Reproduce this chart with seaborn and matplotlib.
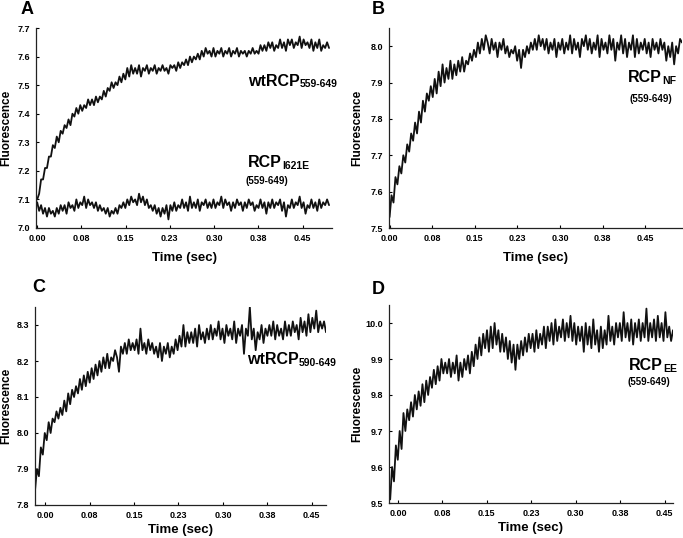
import numpy as np
import pandas as pd
import matplotlib
matplotlib.use("Agg")
import matplotlib.pyplot as plt
import seaborn as sns

# Shared time axis ticks
time_ticks = [0.0, 0.075, 0.15, 0.225, 0.30, 0.375, 0.45]
time_tick_labels = ["0.00", "0.08", "0.15", "0.23", "0.30", "0.38", "0.45"]

# Panel A: wtRCP559-649 and RCP I621E (~3.3 ms per point)
a_time = (0.0, 0.495)
a_wt = [7.10, 7.12, 7.17, 7.17, 7.21, 7.21, 7.25, 7.25, 7.29, 7.28,
        7.32, 7.30, 7.34, 7.33, 7.36, 7.35, 7.38, 7.36, 7.40, 7.39,
        7.42, 7.40, 7.43, 7.41, 7.43, 7.42, 7.45, 7.43, 7.45, 7.43,
        7.46, 7.44, 7.46, 7.45, 7.48, 7.46, 7.49, 7.48, 7.51, 7.49,
        7.51, 7.50, 7.53, 7.51, 7.54, 7.52, 7.56, 7.53, 7.57, 7.54,
        7.56, 7.54, 7.57, 7.53, 7.56, 7.55, 7.57, 7.54, 7.56, 7.55,
        7.57, 7.54, 7.56, 7.55, 7.57, 7.55, 7.56, 7.54, 7.57, 7.56,
        7.57, 7.55, 7.58, 7.56, 7.58, 7.57, 7.59, 7.57, 7.60, 7.58,
        7.60, 7.59, 7.61, 7.59, 7.62, 7.60, 7.63, 7.61, 7.62, 7.60,
        7.63, 7.60, 7.62, 7.61, 7.63, 7.60, 7.62, 7.61, 7.63, 7.60,
        7.62, 7.61, 7.63, 7.60, 7.62, 7.61, 7.62, 7.60, 7.62, 7.61,
        7.63, 7.61, 7.62, 7.61, 7.64, 7.62, 7.64, 7.62, 7.65, 7.63,
        7.65, 7.62, 7.64, 7.63, 7.66, 7.63, 7.65, 7.62, 7.66, 7.64,
        7.66, 7.63, 7.65, 7.64, 7.67, 7.63, 7.66, 7.64, 7.65, 7.63,
        7.66, 7.62, 7.65, 7.63, 7.66, 7.62, 7.64, 7.63, 7.65, 7.63]
a_i621e = [7.09, 7.06, 7.08, 7.05, 7.07, 7.04, 7.07, 7.05, 7.06, 7.04,
           7.07, 7.05, 7.08, 7.06, 7.08, 7.05, 7.09, 7.07, 7.08, 7.06,
           7.10, 7.07, 7.09, 7.08, 7.11, 7.07, 7.10, 7.08, 7.09, 7.07,
           7.09, 7.06, 7.08, 7.06, 7.07, 7.05, 7.07, 7.04, 7.06, 7.05,
           7.07, 7.05, 7.08, 7.07, 7.09, 7.07, 7.10, 7.08, 7.11, 7.09,
           7.10, 7.08, 7.12, 7.09, 7.11, 7.08, 7.10, 7.07, 7.08, 7.06,
           7.08, 7.05, 7.07, 7.04, 7.07, 7.05, 7.08, 7.03, 7.08, 7.06,
           7.09, 7.06, 7.08, 7.07, 7.10, 7.07, 7.09, 7.06, 7.11, 7.07,
           7.09, 7.07, 7.10, 7.06, 7.09, 7.08, 7.10, 7.07, 7.09, 7.07,
           7.10, 7.07, 7.09, 7.08, 7.11, 7.07, 7.10, 7.08, 7.09, 7.06,
           7.09, 7.07, 7.10, 7.08, 7.09, 7.06, 7.09, 7.07, 7.10, 7.08,
           7.09, 7.06, 7.08, 7.07, 7.10, 7.07, 7.09, 7.05, 7.09, 7.07,
           7.10, 7.07, 7.09, 7.08, 7.10, 7.06, 7.09, 7.04, 7.08, 7.07,
           7.10, 7.07, 7.09, 7.08, 7.11, 7.07, 7.09, 7.05, 7.08, 7.07,
           7.10, 7.07, 7.09, 7.06, 7.10, 7.07, 7.09, 7.08, 7.10, 7.08]
a_yticks = [7.0, 7.1, 7.2, 7.3, 7.4, 7.5, 7.6, 7.7]

# Panel B: RCP NF (559-649)
b_time = (0.0, 0.515)
b_nf = [7.53, 7.59, 7.57, 7.64, 7.62, 7.67, 7.65, 7.70, 7.68, 7.73,
        7.71, 7.76, 7.74, 7.79, 7.76, 7.82, 7.79, 7.85, 7.82, 7.87,
        7.85, 7.89, 7.86, 7.91, 7.87, 7.93, 7.89, 7.95, 7.90, 7.94,
        7.91, 7.96, 7.91, 7.95, 7.92, 7.96, 7.93, 7.97, 7.93, 7.96,
        7.95, 7.98, 7.96, 7.99, 7.97, 8.01, 7.98, 8.02, 7.99, 8.03,
        8.01, 7.98, 8.02, 7.99, 8.01, 7.97, 8.01, 7.99, 8.02, 7.98,
        8.00, 7.97, 7.99, 7.98, 8.00, 7.96, 7.99, 7.94, 7.99, 7.97,
        8.00, 7.98, 8.01, 7.99, 8.02, 7.99, 8.03, 8.00, 8.02, 7.99,
        8.02, 7.98, 8.01, 7.99, 8.02, 7.97, 8.01, 7.99, 8.02, 7.98,
        8.01, 7.99, 8.03, 7.98, 8.02, 7.99, 8.01, 7.97, 8.02, 8.00,
        8.03, 7.99, 8.02, 7.98, 8.01, 7.99, 8.03, 7.97, 8.02, 7.99,
        8.01, 7.98, 8.03, 7.99, 8.02, 7.96, 8.01, 7.99, 8.03, 7.98,
        8.02, 7.97, 8.01, 7.99, 8.03, 7.97, 8.02, 7.98, 8.01, 7.99,
        8.02, 7.98, 8.01, 7.97, 8.02, 7.99, 8.01, 7.98, 8.02, 7.99,
        8.01, 7.96, 8.00, 7.97, 8.01, 7.95, 8.00, 7.98, 8.02, 8.01]
b_yticks = [7.5, 7.6, 7.7, 7.8, 7.9, 8.0]

# Panel C: wtRCP590-649
c_time = (-0.017, 0.474)
c_wt = [7.84, 7.90, 7.88, 7.96, 7.94, 8.00, 7.98, 8.03, 8.00, 8.04,
        8.03, 8.06, 8.04, 8.07, 8.05, 8.09, 8.06, 8.11, 8.08, 8.12,
        8.10, 8.13, 8.11, 8.15, 8.12, 8.16, 8.13, 8.17, 8.14, 8.18,
        8.15, 8.19, 8.16, 8.20, 8.17, 8.21, 8.18, 8.22, 8.18, 8.21,
        8.20, 8.23, 8.21, 8.17, 8.24, 8.22, 8.25, 8.22, 8.26, 8.23,
        8.25, 8.23, 8.26, 8.22, 8.29, 8.23, 8.25, 8.22, 8.26, 8.23,
        8.25, 8.22, 8.24, 8.21, 8.25, 8.20, 8.24, 8.22, 8.25, 8.21,
        8.24, 8.22, 8.26, 8.23, 8.27, 8.24, 8.30, 8.24, 8.28, 8.25,
        8.28, 8.25, 8.29, 8.24, 8.30, 8.26, 8.28, 8.25, 8.29, 8.26,
        8.30, 8.26, 8.29, 8.27, 8.31, 8.26, 8.29, 8.25, 8.30, 8.27,
        8.29, 8.26, 8.31, 8.25, 8.29, 8.27, 8.30, 8.22, 8.29, 8.27,
        8.35, 8.26, 8.29, 8.23, 8.28, 8.26, 8.30, 8.25, 8.29, 8.27,
        8.30, 8.27, 8.31, 8.26, 8.30, 8.27, 8.29, 8.26, 8.31, 8.27,
        8.30, 8.27, 8.31, 8.28, 8.30, 8.26, 8.32, 8.28, 8.31, 8.27,
        8.33, 8.28, 8.32, 8.29, 8.34, 8.28, 8.31, 8.29, 8.31, 8.28]
c_yticks = [7.8, 7.9, 8.0, 8.1, 8.2, 8.3]

# Panel D: RCP EE (559-649)
d_time = (-0.013, 0.464)
d_ee = [9.51, 9.60, 9.56, 9.66, 9.62, 9.70, 9.65, 9.75, 9.70, 9.76,
        9.73, 9.78, 9.74, 9.80, 9.76, 9.81, 9.77, 9.83, 9.78, 9.84,
        9.80, 9.85, 9.82, 9.87, 9.83, 9.88, 9.84, 9.90, 9.86, 9.89,
        9.86, 9.90, 9.85, 9.89, 9.86, 9.91, 9.84, 9.89, 9.85, 9.90,
        9.87, 9.91, 9.86, 9.92, 9.88, 9.94, 9.90, 9.96, 9.91, 9.97,
        9.93, 9.98, 9.92, 9.99, 9.93, 10.00, 9.94, 9.98, 9.92, 9.97,
        9.92, 9.96, 9.90, 9.95, 9.89, 9.94, 9.87, 9.94, 9.90, 9.95,
        9.91, 9.96, 9.92, 9.97, 9.93, 9.97, 9.92, 9.98, 9.93, 9.97,
        9.94, 9.99, 9.93, 9.99, 9.95, 10.00, 9.94, 10.01, 9.95, 9.99,
        9.96, 10.01, 9.95, 10.00, 9.96, 10.02, 9.95, 10.00, 9.94, 9.99,
        9.95, 9.99, 9.92, 10.00, 9.94, 9.99, 9.93, 10.01, 9.94, 9.98,
        9.92, 9.99, 9.93, 9.98, 9.94, 10.02, 9.95, 9.99, 9.94, 10.00,
        9.96, 10.00, 9.95, 10.03, 9.96, 10.00, 9.95, 10.01, 9.94, 10.00,
        9.96, 10.01, 9.95, 10.00, 9.96, 10.04, 9.95, 10.00, 9.96, 10.01,
        9.95, 10.02, 9.96, 10.00, 9.95, 10.03, 9.96, 9.99, 9.95, 9.98]
d_yticks = [9.5, 9.6, 9.7, 9.8, 9.9, 10.0]

sns.set_style("ticks")
plt.rcParams["font.family"] = ["Liberation Sans", "DejaVu Sans"]
plt.rcParams["font.weight"] = "bold"
for key in ["text.color", "axes.labelcolor", "xtick.color", "ytick.color"]:
    plt.rcParams[key] = "black"

W, H = 683, 538
fig = plt.figure(figsize=(W / 100, H / 100), dpi=100)


def px_axes(left, top, right, bottom):
    return fig.add_axes([left / W, 1 - bottom / H, (right - left) / W, (bottom - top) / H])


def trace(ax, t_range, values):
    df = pd.DataFrame({"t": np.linspace(t_range[0], t_range[1], len(values)), "f": values})
    sns.lineplot(data=df, x="t", y="f", ax=ax, color="#111111", lw=1.3,
                 estimator=None, sort=False)


def style(ax, xlim, ylim, yticks, ylab_x, xlab_y):
    ax.set_xlim(*xlim)
    ax.set_ylim(*ylim)
    ax.set_xticks(time_ticks)
    ax.set_xticklabels(time_tick_labels)
    ax.set_yticks(yticks)
    ax.set_yticklabels([f"{v:.1f}" for v in yticks])
    ax.tick_params(direction="in", length=2.5, width=0.8, labelsize=6.5, pad=4)
    for lab in ax.get_xticklabels() + ax.get_yticklabels():
        lab.set_fontweight("bold")
    for s in ["left", "bottom"]:
        ax.spines[s].set_linewidth(0.9)
        ax.spines[s].set_color("#222222")
    sns.despine(ax=ax)
    ax.set_xlabel("Time (sec)", fontsize=9.5, fontweight="bold")
    ax.set_ylabel("Fluorescence", fontsize=8.5, fontweight="bold")
    ax.yaxis.set_label_coords(ylab_x, 0.5)
    ax.xaxis.set_label_coords(0.5, xlab_y)


def label(x, y, main, sub=None, under=None, size=11.5):
    t = fig.text(x / W, 1 - y / H, main, fontsize=size, fontweight="bold",
                 va="center", ha="left", color="black")
    if sub:
        fig.add_artist(plt.Annotation(sub, xy=(1, 0), xycoords=t, xytext=(0.2, -0.3),
                                      textcoords="offset points", fontsize=7.5,
                                      fontweight="bold", va="bottom", ha="left",
                                      color="black"))
    if under:
        fig.text(under[0] / W, 1 - under[1] / H, under[2], fontsize=7,
                 fontweight="bold", va="center", ha="left", color="black")


axA = px_axes(36, 28, 332, 228)
trace(axA, a_time, a_wt)
trace(axA, a_time, a_i621e)
style(axA, (-0.002, 0.50), (7.0, 7.7), a_yticks, -0.081, -0.12)

axB = px_axes(389, 28, 682, 228)
trace(axB, b_time, b_nf)
style(axB, (-0.001, 0.515), (7.5, 8.05), b_yticks, -0.089, -0.12)

axC = px_axes(35, 307, 326, 505)
trace(axC, c_time, c_wt)
style(axC, (-0.017, 0.474), (7.8, 8.35), c_yticks, -0.079, -0.096)

axD = px_axes(389, 305, 673, 503)
trace(axD, d_time, d_ee)
style(axD, (-0.015, 0.464), (9.5, 10.05), d_yticks, -0.092, -0.096)

# Panel letters
for (x, y, s) in [(27, 10, "A"), (378, 9, "B"), (39, 287, "C"), (378, 290, "D")]:
    fig.text(x / W, 1 - y / H, s, fontsize=13, fontweight="bold", ha="center",
             va="center", color="black")

# Trace annotations
label(248, 81, "wtRCP", "559-649")
label(248, 163, "RCP", "I621E", under=(245, 181, "(559-649)"))
label(628, 78, "RCP", "NF", under=(630, 99, "(559-649)"))
label(247, 360, "wtRCP", "590-649")
label(629, 366, "RCP", "EE", under=(627, 382, "(559-649)"))

fig.savefig("out.png", dpi=100)
